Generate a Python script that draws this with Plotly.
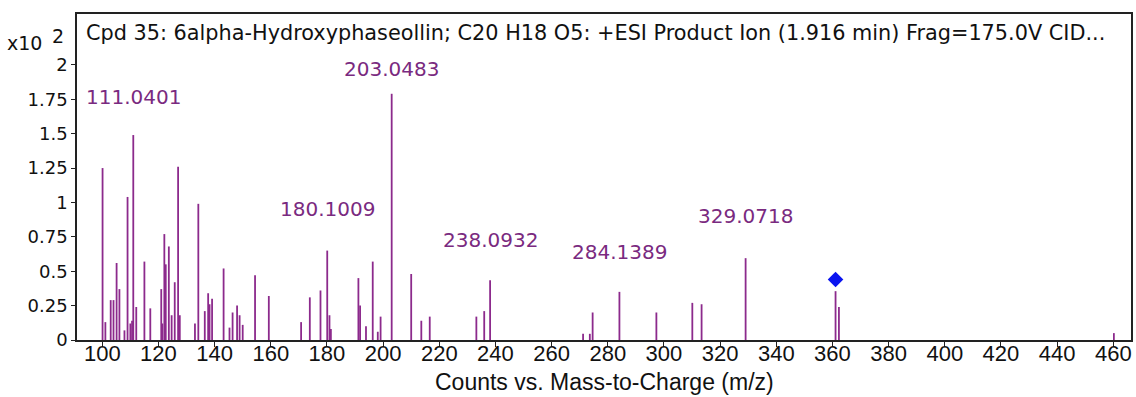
import plotly.graph_objects as go

# Product-ion spectrum of 6alpha-hydroxyphaseollin (counts x10^2)
mz = [100.1, 101.1, 103.0, 104.0, 105.1, 106.1, 107.9, 109.0, 110.0, 110.6,
      111.0401, 112.1, 115.0, 117.1, 121.0, 121.4, 122.1, 122.6, 123.7, 124.7,
      125.8, 127.0, 127.6, 133.0, 134.2, 136.5, 137.7, 138.2, 139.1, 143.2,
      145.3, 146.4, 148.0, 148.9, 150.0, 154.4, 159.3, 170.8, 173.9, 177.7,
      180.1009, 180.9, 181.4, 191.2, 191.8, 193.9, 196.3, 198.1, 199.1, 203.0483,
      210.0, 213.6, 216.6, 233.2, 236.0, 238.0932, 271.2, 273.6, 274.6, 284.1389,
      297.3, 310.1, 313.4, 329.0718, 361.1, 362.3, 460.2]
counts = [1.25, 0.13, 0.29, 0.29, 0.56, 0.37, 0.07, 1.04, 0.12, 0.14,
          1.49, 0.24, 0.57, 0.23, 0.37, 0.12, 0.77, 0.55, 0.68, 0.18,
          0.42, 1.26, 0.18, 0.12, 0.99, 0.21, 0.34, 0.26, 0.30, 0.52,
          0.09, 0.20, 0.25, 0.18, 0.11, 0.47, 0.32, 0.13, 0.31, 0.36,
          0.65, 0.18, 0.08, 0.45, 0.25, 0.10, 0.57, 0.06, 0.17, 1.79,
          0.48, 0.14, 0.17, 0.17, 0.21, 0.435, 0.045, 0.045, 0.20, 0.35,
          0.20, 0.27, 0.26, 0.595, 0.355, 0.24, 0.05]

# labelled fragment ions
label_mz = [111.0401, 180.1009, 203.0483, 238.0932, 284.1389, 329.0718]
# vertical placement of each label (in plot y units)
label_pos = [1.77, 0.95, 1.97, 0.73, 0.64, 0.90]

# precursor marker
precursor_mz = [361.1]
precursor_y = [0.44]

x_ticks = list(range(100, 461, 20))
y_ticks = [0, 0.25, 0.5, 0.75, 1, 1.25, 1.5, 1.75, 2]
y_tick_text = ["0", "0.25", "0.5", "0.75", "1", "1.25", "1.5", "1.75", "2"]

stick_x, stick_y = [], []
for m, c in zip(mz, counts):
    stick_x += [m, m, None]
    stick_y += [0, c, None]

PURPLE = "#8c2a8c"
LABEL = "#7a2a80"
INK = "#111111"

fig = go.Figure()
fig.add_trace(go.Scatter(x=stick_x, y=stick_y, mode="lines",
                         line=dict(color=PURPLE, width=1.8),
                         hoverinfo="skip", showlegend=False))
fig.add_trace(go.Scatter(x=precursor_mz, y=precursor_y, mode="markers",
                         marker=dict(symbol="diamond", size=12, color="#0a14f0"),
                         showlegend=False))

for m, p in zip(label_mz, label_pos):
    fig.add_annotation(x=m, y=p, xref="x", yref="y", text=f"{m:.4f}",
                       showarrow=False, xanchor="center", yanchor="middle",
                       font=dict(family="DejaVu Sans", size=20, color=LABEL))

fig.add_annotation(x=0.007, y=0.942, xref="paper", yref="paper",
                   text="Cpd 35: 6alpha-Hydroxyphaseollin; C20 H18 O5: +ESI Product Ion (1.916 min) Frag=175.0V CID...",
                   showarrow=False, xanchor="left", yanchor="middle",
                   font=dict(family="DejaVu Sans", size=20.8, color=INK))

# y-axis multiplier "x10 2"
fig.add_annotation(x=-0.068, y=0.91, xref="paper", yref="paper", text="x10",
                   showarrow=False, xanchor="left", yanchor="middle",
                   font=dict(family="DejaVu Sans", size=19, color=INK))
fig.add_annotation(x=-0.026, y=0.932, xref="paper", yref="paper", text="2",
                   showarrow=False, xanchor="left", yanchor="middle",
                   font=dict(family="DejaVu Sans", size=19, color=INK))

# x-axis caption
fig.add_annotation(x=0.5, y=-0.13, xref="paper", yref="paper",
                   text="Counts vs. Mass-to-Charge (m/z)",
                   showarrow=False, xanchor="center", yanchor="middle",
                   font=dict(family="Liberation Sans", size=23, color=INK))

fig.update_layout(
    width=1136, height=397,
    margin=dict(l=77, r=3, t=14, b=56.5),
    paper_bgcolor="white", plot_bgcolor="white",
    font=dict(family="Liberation Sans", size=17, color=INK),
)
fig.update_xaxes(range=[91, 466.3], tickmode="array", tickvals=x_ticks,
                 ticks="outside", ticklen=5, tickcolor="#222", tickwidth=1,
                 tickfont=dict(family="Liberation Sans", size=22, color=INK),
                 ticklabelstandoff=-12,
                 showline=True, linecolor="#222", linewidth=1.5, mirror=True,
                 showgrid=False, zeroline=False)
fig.update_yaxes(range=[0, 2.37], tickmode="array", tickvals=y_ticks,
                 ticktext=y_tick_text,
                 ticks="outside", ticklen=4, tickcolor="#222", tickwidth=1,
                 tickfont=dict(family="DejaVu Sans", size=18, color=INK),
                 showline=True, linecolor="#222", linewidth=1.5, mirror=True,
                 showgrid=False, zeroline=False)

fig.write_html("out.html")
